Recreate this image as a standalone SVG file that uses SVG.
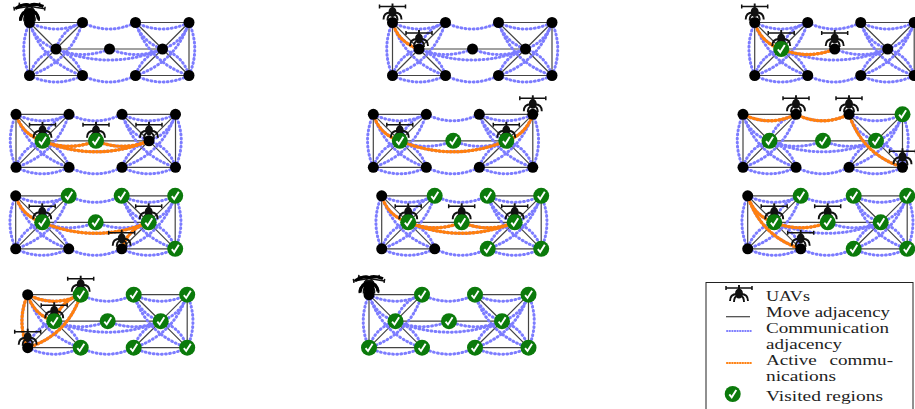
<svg xmlns="http://www.w3.org/2000/svg" width="915" height="409" viewBox="0 0 915 409">
<style>
.m{fill:none;stroke:#444;stroke-width:1.2}
.c{fill:none;stroke:#7c7cff;stroke-width:3;stroke-linecap:round;stroke-dasharray:.8 3.3}
.o{fill:none;stroke:#ff7f0e;stroke-width:3.400;stroke-linecap:round;stroke-dasharray:.8 2.900}
.uav{fill:none;stroke:#111;stroke-width:1.9}
.t{font-family:"Liberation Serif","DejaVu Serif",serif;font-size:14.500px;fill:#222}
</style>
<defs>
<path id="tt1" d="M0 0Q26.500 13 53 0"/><path id="tt2" d="M53 0Q79.500 13 106 0"/><path id="tt3" d="M106 0Q132.800 13 159.500 0"/>
<path id="bb1" d="M0 53Q26.500 66 53 53"/><path id="bb2" d="M53 53Q79.500 66 106 53"/><path id="bb3" d="M106 53Q132.800 66 159.500 53"/>
<path id="ae" d="M0 0Q6 20 26.500 26.500"/><path id="be" d="M53 0Q33 6 26.500 26.500"/><path id="eh" d="M26.500 26.500Q6 33 0 53"/><path id="ei" d="M26.500 26.500Q47 33 53 53"/>
<path id="ai" d="M0 0Q13 40 53 53"/><path id="bh" d="M53 0Q40 40 0 53"/><path id="ah" d="M0 0Q-11.500 26.500 0 53"/><path id="dk" d="M159.500 0Q171 26.500 159.500 53"/>
<path id="ef" d="M26.500 26.500Q53 37.500 80 26.500"/><path id="fg" d="M80 26.500Q106.500 37.500 133 26.500"/><path id="eg" d="M26.500 26.500Q80 48.500 133 26.500"/>
<path id="cg" d="M106 0Q113 20 133 26.500"/><path id="gd" d="M133 26.500Q153 20 159.500 0"/><path id="gj" d="M133 26.500Q112.500 33 106 53"/><path id="gk" d="M133 26.500Q153.500 33 159.500 53"/>
<path id="ck" d="M106 0Q119.500 40 159.500 53"/><path id="jd" d="M106 53Q146 40 159.500 0"/>
<g id="base">
<path class="m" d="M0 0H53M0 0L26.500 26.500M53 0L26.500 26.500M0 0V53M26.500 26.500L0 53M26.500 26.500L53 53M0 53H53M26.500 26.500H133M106 0H159.500M106 0L133 26.500M159.500 0L133 26.500M159.500 0V53M133 26.500L106 53M133 26.500L159.500 53M106 53H159.500"/>
<g class="c"><use href="#tt1"/><use href="#tt2"/><use href="#tt3"/><use href="#bb1"/><use href="#bb2"/><use href="#bb3"/><use href="#ae"/><use href="#be"/><use href="#eh"/><use href="#ei"/><use href="#ai"/><use href="#bh"/><use href="#ah"/><use href="#dk"/><use href="#ef"/><use href="#fg"/><use href="#eg"/><use href="#cg"/><use href="#gd"/><use href="#gj"/><use href="#gk"/><use href="#ck"/><use href="#jd"/></g>
</g>
<circle id="n" r="5.500" fill="#000"/>
<g id="v"><circle r="8" fill="#0b7a0b"/><path d="M-3.400 .4L-1 3.300L3.600-4" fill="none" stroke="#fff" stroke-width="1.900"/></g>
<g id="u" class="uav"><path d="M-13-16H13M-13-18V-14M13-18V-14" stroke-width="1.500"/><path d="M0-19V-13"/><ellipse cx="0" cy="-10.500" rx="3" ry="4" fill="#111"/><path d="M-2-10Q-9-10-9-3M2-10Q9-10 9-3M-2-8Q-5-7-5-2M2-8Q5-7 5-2"/></g>
<g id="u2"><use href="#u" transform="rotate(-9)"/><use href="#u" transform="rotate(9)"/><path d="M-14-14Q-4-20 0-17Q4-20 14-16M-9-2Q-8-12 0-12Q8-12 9-3" fill="none" stroke="#000" stroke-width="3"/><circle cy="-7" r="5.500" fill="#000"/></g>
</defs>

<g id="p1" transform="translate(29.500,22.500)"><g class="connectors"><use href="#base"/></g>
<g id="p1-uav1"><use href="#u2"/></g>
<g id="p1-a"><use href="#n"/></g><g id="p1-b" transform="translate(53,0)"><use href="#n"/></g><g id="p1-c" transform="translate(106,0)"><use href="#n"/></g><g id="p1-d" transform="translate(159.500,0)"><use href="#n"/></g><g id="p1-e" transform="translate(26.500,26.500)"><use href="#n"/></g><g id="p1-f" transform="translate(80,26.500)"><use href="#n"/></g><g id="p1-g" transform="translate(133,26.500)"><use href="#n"/></g><g id="p1-h" transform="translate(0,53)"><use href="#n"/></g><g id="p1-i" transform="translate(53,53)"><use href="#n"/></g><g id="p1-j" transform="translate(106,53)"><use href="#n"/></g><g id="p1-k" transform="translate(159.500,53)"><use href="#n"/></g></g>

<g id="p2" transform="translate(392.500,22.500)"><g class="connectors"><use href="#base"/><g class="o"><use href="#ae"/></g></g>
<g id="p2-uav1"><use href="#u"/></g><g id="p2-uav2" transform="translate(26.500,26.500)"><use href="#u"/></g>
<g id="p2-a"><use href="#n"/></g><g id="p2-b" transform="translate(53,0)"><use href="#n"/></g><g id="p2-c" transform="translate(106,0)"><use href="#n"/></g><g id="p2-d" transform="translate(159.500,0)"><use href="#n"/></g><g id="p2-e" transform="translate(26.500,26.500)"><use href="#n"/></g><g id="p2-f" transform="translate(80,26.500)"><use href="#n"/></g><g id="p2-g" transform="translate(133,26.500)"><use href="#n"/></g><g id="p2-h" transform="translate(0,53)"><use href="#n"/></g><g id="p2-i" transform="translate(53,53)"><use href="#n"/></g><g id="p2-j" transform="translate(106,53)"><use href="#n"/></g><g id="p2-k" transform="translate(159.500,53)"><use href="#n"/></g></g>

<g id="p3" transform="translate(754.700,22.500)"><g class="connectors"><use href="#base"/><g class="o"><use href="#ae"/><use href="#ef"/></g></g>
<g id="p3-uav1"><use href="#u"/></g><g id="p3-uav2" transform="translate(26.500,26.500)"><use href="#u"/></g><g id="p3-uav3" transform="translate(80,26.500)"><use href="#u"/></g>
<g id="p3-a"><use href="#n"/></g><g id="p3-b" transform="translate(53,0)"><use href="#n"/></g><g id="p3-c" transform="translate(106,0)"><use href="#n"/></g><g id="p3-d" transform="translate(159.500,0)"><use href="#n"/></g><g id="p3-e" transform="translate(26.500,26.500)"><use href="#v"/></g><g id="p3-f" transform="translate(80,26.500)"><use href="#n"/></g><g id="p3-g" transform="translate(133,26.500)"><use href="#n"/></g><g id="p3-h" transform="translate(0,53)"><use href="#n"/></g><g id="p3-i" transform="translate(53,53)"><use href="#n"/></g><g id="p3-j" transform="translate(106,53)"><use href="#n"/></g><g id="p3-k" transform="translate(159.500,53)"><use href="#n"/></g></g>

<g id="p4" transform="translate(16,114.300)"><g class="connectors"><use href="#base"/><g class="o"><use href="#ae"/><use href="#ef"/><use href="#fg"/><use href="#eg"/></g></g>
<g id="p4-uav1" transform="translate(26.500,26.500)"><use href="#u"/></g><g id="p4-uav2" transform="translate(80,26.500)"><use href="#u"/></g><g id="p4-uav3" transform="translate(133,26.500)"><use href="#u"/></g>
<g id="p4-a"><use href="#n"/></g><g id="p4-b" transform="translate(53,0)"><use href="#n"/></g><g id="p4-c" transform="translate(106,0)"><use href="#n"/></g><g id="p4-d" transform="translate(159.500,0)"><use href="#n"/></g><g id="p4-e" transform="translate(26.500,26.500)"><use href="#v"/></g><g id="p4-f" transform="translate(80,26.500)"><use href="#v"/></g><g id="p4-g" transform="translate(133,26.500)"><use href="#n"/></g><g id="p4-h" transform="translate(0,53)"><use href="#n"/></g><g id="p4-i" transform="translate(53,53)"><use href="#n"/></g><g id="p4-j" transform="translate(106,53)"><use href="#n"/></g><g id="p4-k" transform="translate(159.500,53)"><use href="#n"/></g></g>

<g id="p5" transform="translate(373.300,114.300)"><g class="connectors"><use href="#base"/><g class="o"><use href="#ae"/><use href="#eg"/><use href="#gd"/></g></g>
<g id="p5-uav1" transform="translate(26.500,26.500)"><use href="#u"/></g><g id="p5-uav2" transform="translate(133,26.500)"><use href="#u"/></g><g id="p5-uav3" transform="translate(159.500,0)"><use href="#u"/></g>
<g id="p5-a"><use href="#n"/></g><g id="p5-b" transform="translate(53,0)"><use href="#n"/></g><g id="p5-c" transform="translate(106,0)"><use href="#n"/></g><g id="p5-d" transform="translate(159.500,0)"><use href="#n"/></g><g id="p5-e" transform="translate(26.500,26.500)"><use href="#v"/></g><g id="p5-f" transform="translate(80,26.500)"><use href="#v"/></g><g id="p5-g" transform="translate(133,26.500)"><use href="#v"/></g><g id="p5-h" transform="translate(0,53)"><use href="#n"/></g><g id="p5-i" transform="translate(53,53)"><use href="#n"/></g><g id="p5-j" transform="translate(106,53)"><use href="#n"/></g><g id="p5-k" transform="translate(159.500,53)"><use href="#n"/></g></g>

<g id="p6" transform="translate(743,114.300)"><g class="connectors"><use href="#base"/><g class="o"><use href="#tt1"/><use href="#tt2"/><use href="#ck"/></g></g>
<g id="p6-uav1" transform="translate(53,0)"><use href="#u"/></g><g id="p6-uav2" transform="translate(106,0)"><use href="#u"/></g><g id="p6-uav3" transform="translate(159.500,53)"><use href="#u"/></g>
<g id="p6-a"><use href="#n"/></g><g id="p6-b" transform="translate(53,0)"><use href="#n"/></g><g id="p6-c" transform="translate(106,0)"><use href="#n"/></g><g id="p6-d" transform="translate(159.500,0)"><use href="#v"/></g><g id="p6-e" transform="translate(26.500,26.500)"><use href="#v"/></g><g id="p6-f" transform="translate(80,26.500)"><use href="#v"/></g><g id="p6-g" transform="translate(133,26.500)"><use href="#v"/></g><g id="p6-h" transform="translate(0,53)"><use href="#n"/></g><g id="p6-i" transform="translate(53,53)"><use href="#n"/></g><g id="p6-j" transform="translate(106,53)"><use href="#n"/></g><g id="p6-k" transform="translate(159.500,53)"><use href="#n"/></g></g>

<g id="p7" transform="translate(15.700,195.800)"><g class="connectors"><use href="#base"/><g class="o"><use href="#ae"/><use href="#eg"/><use href="#gj"/></g></g>
<g id="p7-uav1" transform="translate(26.500,26.500)"><use href="#u"/></g><g id="p7-uav2" transform="translate(133,26.500)"><use href="#u"/></g><g id="p7-uav3" transform="translate(106,53)"><use href="#u"/></g>
<g id="p7-a"><use href="#n"/></g><g id="p7-b" transform="translate(53,0)"><use href="#v"/></g><g id="p7-c" transform="translate(106,0)"><use href="#v"/></g><g id="p7-d" transform="translate(159.500,0)"><use href="#v"/></g><g id="p7-e" transform="translate(26.500,26.500)"><use href="#v"/></g><g id="p7-f" transform="translate(80,26.500)"><use href="#v"/></g><g id="p7-g" transform="translate(133,26.500)"><use href="#v"/></g><g id="p7-h" transform="translate(0,53)"><use href="#n"/></g><g id="p7-i" transform="translate(53,53)"><use href="#n"/></g><g id="p7-j" transform="translate(106,53)"><use href="#n"/></g><g id="p7-k" transform="translate(159.500,53)"><use href="#v"/></g></g>

<g id="p8" transform="translate(381.700,195.800)"><g class="connectors"><use href="#base"/><g class="o"><use href="#ae"/><use href="#ef"/><use href="#fg"/><use href="#eg"/></g></g>
<g id="p8-uav1" transform="translate(26.500,26.500)"><use href="#u"/></g><g id="p8-uav2" transform="translate(80,26.500)"><use href="#u"/></g><g id="p8-uav3" transform="translate(133,26.500)"><use href="#u"/></g>
<g id="p8-a"><use href="#n"/></g><g id="p8-b" transform="translate(53,0)"><use href="#v"/></g><g id="p8-c" transform="translate(106,0)"><use href="#v"/></g><g id="p8-d" transform="translate(159.500,0)"><use href="#v"/></g><g id="p8-e" transform="translate(26.500,26.500)"><use href="#v"/></g><g id="p8-f" transform="translate(80,26.500)"><use href="#v"/></g><g id="p8-g" transform="translate(133,26.500)"><use href="#v"/></g><g id="p8-h" transform="translate(0,53)"><use href="#n"/></g><g id="p8-i" transform="translate(53,53)"><use href="#n"/></g><g id="p8-j" transform="translate(106,53)"><use href="#v"/></g><g id="p8-k" transform="translate(159.500,53)"><use href="#v"/></g></g>

<g id="p9" transform="translate(747.700,195.800)"><g class="connectors"><use href="#base"/><g class="o"><use href="#ae"/><use href="#ef"/><use href="#ai"/></g></g>
<g id="p9-uav1" transform="translate(26.500,26.500)"><use href="#u"/></g><g id="p9-uav2" transform="translate(80,26.500)"><use href="#u"/></g><g id="p9-uav3" transform="translate(53,53)"><use href="#u"/></g>
<g id="p9-a"><use href="#n"/></g><g id="p9-b" transform="translate(53,0)"><use href="#v"/></g><g id="p9-c" transform="translate(106,0)"><use href="#v"/></g><g id="p9-d" transform="translate(159.500,0)"><use href="#v"/></g><g id="p9-e" transform="translate(26.500,26.500)"><use href="#v"/></g><g id="p9-f" transform="translate(80,26.500)"><use href="#v"/></g><g id="p9-g" transform="translate(133,26.500)"><use href="#v"/></g><g id="p9-h" transform="translate(0,53)"><use href="#n"/></g><g id="p9-i" transform="translate(53,53)"><use href="#n"/></g><g id="p9-j" transform="translate(106,53)"><use href="#v"/></g><g id="p9-k" transform="translate(159.500,53)"><use href="#v"/></g></g>

<g id="p10" transform="translate(27.700,294.700)"><g class="connectors"><use href="#base"/><g class="o"><use href="#tt1"/><use href="#ah"/><use href="#ae"/><use href="#be"/><use href="#bh"/></g></g>
<g id="p10-uav1" transform="translate(53,0)"><use href="#u"/></g><g id="p10-uav2" transform="translate(26.500,26.500)"><use href="#u"/></g><g id="p10-uav3" transform="translate(0,53)"><use href="#u"/></g>
<g id="p10-a"><use href="#n"/></g><g id="p10-b" transform="translate(53,0)"><use href="#v"/></g><g id="p10-c" transform="translate(106,0)"><use href="#v"/></g><g id="p10-d" transform="translate(159.500,0)"><use href="#v"/></g><g id="p10-e" transform="translate(26.500,26.500)"><use href="#v"/></g><g id="p10-f" transform="translate(80,26.500)"><use href="#v"/></g><g id="p10-g" transform="translate(133,26.500)"><use href="#v"/></g><g id="p10-h" transform="translate(0,53)"><use href="#n"/></g><g id="p10-i" transform="translate(53,53)"><use href="#v"/></g><g id="p10-j" transform="translate(106,53)"><use href="#v"/></g><g id="p10-k" transform="translate(159.500,53)"><use href="#v"/></g></g>

<g id="p11" transform="translate(369,294.700)"><g class="connectors"><use href="#base"/></g>
<g id="p11-uav1"><use href="#u2"/></g>
<g id="p11-a"><use href="#n"/></g><g id="p11-b" transform="translate(53,0)"><use href="#v"/></g><g id="p11-c" transform="translate(106,0)"><use href="#v"/></g><g id="p11-d" transform="translate(159.500,0)"><use href="#v"/></g><g id="p11-e" transform="translate(26.500,26.500)"><use href="#v"/></g><g id="p11-f" transform="translate(80,26.500)"><use href="#v"/></g><g id="p11-g" transform="translate(133,26.500)"><use href="#v"/></g><g id="p11-h" transform="translate(0,53)"><use href="#v"/></g><g id="p11-i" transform="translate(53,53)"><use href="#v"/></g><g id="p11-j" transform="translate(106,53)"><use href="#v"/></g><g id="p11-k" transform="translate(159.500,53)"><use href="#v"/></g></g>

<g id="legend">
<rect x="706" y="282.500" width="207" height="135" fill="#fff" stroke="#222" stroke-width="1"/>
<use href="#u" transform="translate(739,304)"/>
<path class="m" d="M726 316.700H750"/>
<path class="c" d="M727 331H751" style="stroke-width:2;stroke-dasharray:.4 2.200"/>
<path class="o" d="M727 363H751" style="stroke-width:2.200;stroke-dasharray:.4 2.200"/>
<use href="#v" transform="translate(732.700,394)"/>
<text class="t" x="766" y="300.500" textLength="44" lengthAdjust="spacingAndGlyphs">UAVs</text>
<text class="t" x="766" y="316.500" textLength="124" lengthAdjust="spacingAndGlyphs">Move adjacency</text>
<text class="t" x="766" y="332.500" textLength="123" lengthAdjust="spacingAndGlyphs">Communication</text>
<text class="t" x="766" y="348.500" textLength="76" lengthAdjust="spacingAndGlyphs">adjacency</text>
<text class="t" x="766" y="364.500" textLength="127" lengthAdjust="spacingAndGlyphs" word-spacing="6">Active commu-</text>
<text class="t" x="766" y="380.500" textLength="70" lengthAdjust="spacingAndGlyphs">nications</text>
<text class="t" x="766" y="401" textLength="117" lengthAdjust="spacingAndGlyphs">Visited regions</text>
</g>
</svg>
